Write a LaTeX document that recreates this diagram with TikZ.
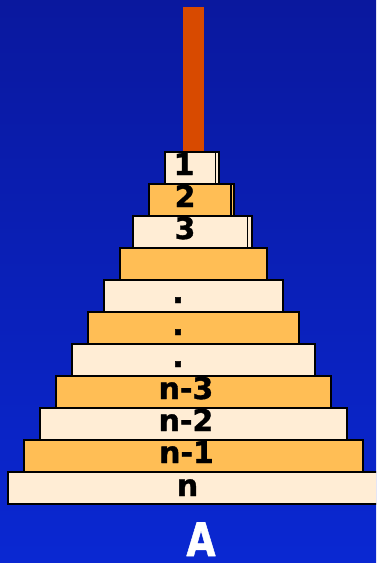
\documentclass[tikz,border=0pt]{standalone}
\usepackage{fontspec}
\newfontfamily\diskfont{DejaVu Sans Bold}[FakeBold=1.2]
\definecolor{bgtop}{HTML}{0A189E}
\definecolor{bgbot}{HTML}{0A28D2}
\definecolor{light}{HTML}{FFEDD5}
\definecolor{dark}{HTML}{FFBE55}
\definecolor{pegc}{HTML}{D84A00}
\tikzset{
  disk/.style={draw=black, line width=1.6pt},
  lab/.style={anchor=base, inner sep=0pt, font=\diskfont\fontsize{30}{30}\selectfont, text=black},
}
\begin{document}
\begin{tikzpicture}[x=1pt,y=-1pt]
\useasboundingbox (0,0) rectangle (376,563);
\begin{scope}
\clip (0,0) rectangle (376,563);
\shade[top color=bgtop, bottom color=bgbot] (0,0) rectangle (376,563);
% peg
\fill[pegc] (183,7) rectangle (204,152);
% disks: name/left/right/top/fill
\foreach \n/\l/\r/\t/\c in {d1/165/219/152/light, d2/149/234/184/dark, d3/133/252/216/light, d4/120/267/248/dark, d5/104/283/280/light, d6/88/299/312/dark, d7/72/315/344/light, d8/56/331/376/dark, d9/40/347/408/light, d10/24/363/440/dark, d11/8/380/472/light}{
  \draw[disk, fill=\c] (\l,\t) rectangle (\r,\t+32);
}
% inner right strips of top disks
\draw[line width=1.3pt] (215.5,152) -- (215.5,184);
\draw[line width=1.3pt] (231,184) -- (231,216);
\draw[line width=1.3pt] (247.5,216) -- (247.5,248);
\end{scope}
% labels
\node[lab] (l1) at (184,175) {1};
\node[lab] (l2) at (185,207) {2};
\node[lab] (l3) at (185,239) {3};
\node[lab] (l5) at (178,303) {.};
\node[lab] (l6) at (178,335) {.};
\node[lab] (l7) at (178,367) {.};
\node[lab] (l8) at (186,399) {n-3};
\node[lab] (l9) at (186,431) {n-2};
\node[lab] (l10) at (186.5,463) {n-1};
\node[lab] (l11) at (187.5,496) {n};
\node[anchor=base, inner sep=0pt, text=white, font=\diskfont\fontsize{46}{46}\selectfont] (peglabel) at (201,556) {\scalebox{0.82}[1]{A}};
\end{tikzpicture}
\end{document}
